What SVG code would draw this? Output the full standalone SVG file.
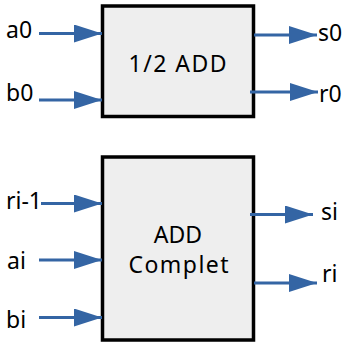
<svg xmlns="http://www.w3.org/2000/svg" width="350" height="343" viewBox="0 0 350 343">
<style>
.box{fill:#eeeeee;stroke:#000000;stroke-width:3.5}
.lbl{font-family:"Noto Sans","Open Sans","DejaVu Sans",sans-serif;font-size:23px;fill:#000000}
.ctr{text-anchor:middle}
.wire{stroke:#3465a4;stroke-width:3;fill:none;marker-end:url(#ah)}
</style>
<defs>
<marker id="ah" markerUnits="userSpaceOnUse" markerWidth="28" markerHeight="18" refX="28" refY="9" orient="auto" viewBox="0 0 28 18">
<path d="M0,0 L28,9 L0,18 z" fill="#3465a4"/>
</marker>
</defs>
<g id="half-add">
<rect class="box" x="102.5" y="6" width="151" height="110.5"/>
<text class="lbl ctr" x="177.5" y="72" textLength="98" lengthAdjust="spacing">1/2 ADD</text>
</g>
<g id="full-add">
<rect class="box" x="102.5" y="157" width="151" height="183"/>
<text class="lbl ctr" x="178" y="243">ADD</text>
<text class="lbl ctr" x="178.5" y="273" textLength="100" lengthAdjust="spacing">Complet</text>
</g>
<g id="labels">
<text class="lbl" x="6" y="38">a0</text>
<text class="lbl" x="6" y="101">b0</text>
<text class="lbl" x="318" y="41">s0</text>
<text class="lbl" x="319" y="102">r0</text>
<text class="lbl" x="6" y="209">ri-1</text>
<text class="lbl" x="7" y="269">ai</text>
<text class="lbl" x="6" y="328">bi</text>
<text class="lbl" x="321" y="220">si</text>
<text class="lbl" x="322" y="282">ri</text>
</g>
<g id="connectors">
<line class="wire" x1="39" y1="33.5" x2="102" y2="33.5"/>
<line class="wire" x1="39" y1="100" x2="102" y2="100"/>
<line class="wire" x1="254" y1="35" x2="317" y2="35"/>
<line class="wire" x1="250" y1="92" x2="318" y2="92"/>
<line class="wire" x1="41" y1="203.5" x2="102" y2="203.5"/>
<line class="wire" x1="39" y1="260" x2="102" y2="260"/>
<line class="wire" x1="39" y1="317.5" x2="102" y2="317.5"/>
<line class="wire" x1="250" y1="214.5" x2="313" y2="214.5"/>
<line class="wire" x1="254" y1="283" x2="317" y2="283"/>
</g>
</svg>
